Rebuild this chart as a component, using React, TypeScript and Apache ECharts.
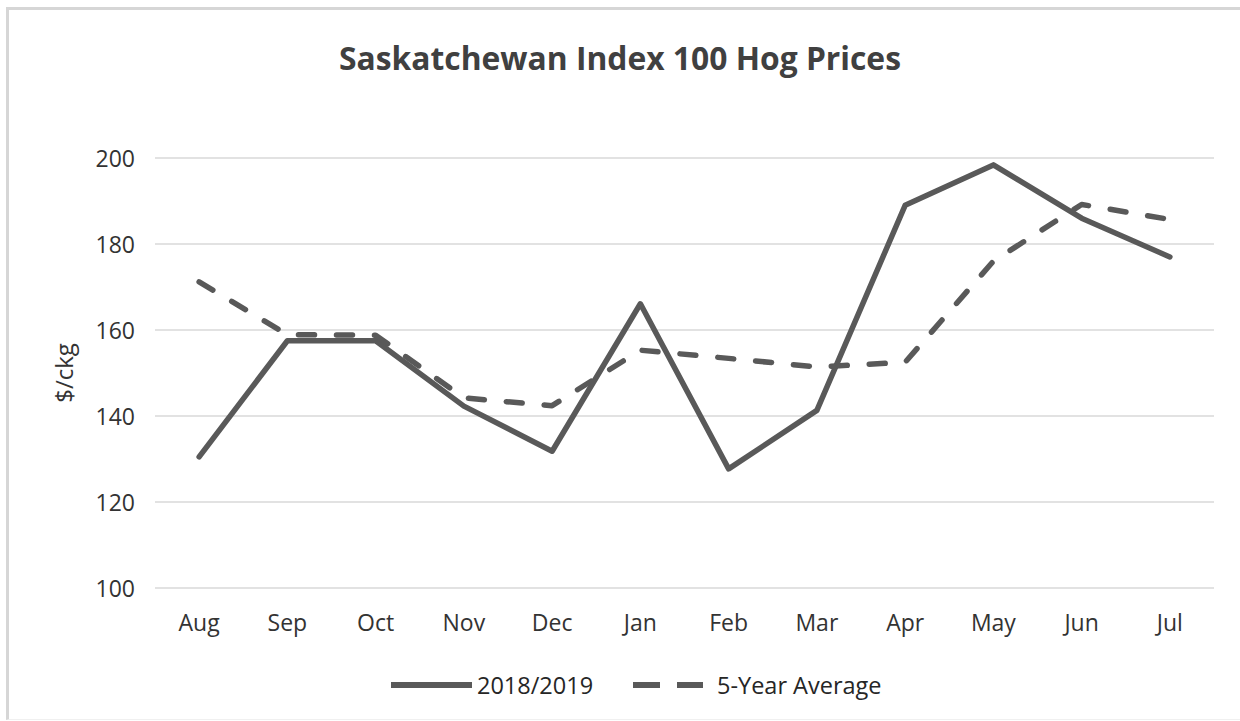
import React, { useEffect, useRef } from "react";
import * as echarts from "echarts";

const months = ["Aug", "Sep", "Oct", "Nov", "Dec", "Jan", "Feb", "Mar", "Apr", "May", "Jun", "Jul"];
const season2018 = [130.5, 157.5, 157.5, 142.3, 131.8, 166.1, 127.7, 141.3, 189, 198.4, 186, 177];
const fiveYearAvg = [171.2, 158.9, 158.8, 144.2, 142.4, 155.3, 153.4, 151.4, 152.5, 176, 189.2, 185.7];
const yTicks = { min: 100, max: 200, interval: 20 };
const seriesNames = ["2018/2019", "5-Year Average"];

const FONT = "'Open Sans', 'Noto Sans', sans-serif";
const LINE_COLOR = "#595959";
const TEXT_COLOR = "#333333";

export default function App() {
  const ref = useRef<HTMLDivElement>(null);
  useEffect(() => {
    document.body.style.margin = "0";
    const chart = echarts.init(ref.current!, null, { renderer: "svg" });
    const legendText = { fontFamily: FONT, fontSize: 23.5, color: "#262626" };
    chart.setOption({
      animation: false,
      backgroundColor: "transparent",
      textStyle: { fontFamily: FONT },
      title: {
        text: "Saskatchewan Index 100 Hog Prices",
        left: "center",
        top: 36,
        textStyle: { fontFamily: FONT, fontSize: 31.8, fontWeight: "bold", color: "#404040" },
      },
      legend: [
        {
          left: 386,
          top: 668,
          itemWidth: 81,
          itemHeight: 6,
          symbolKeepAspect: false,
          textStyle: { ...legendText, padding: [0, 0, 0, 0] },
          data: [{ name: seriesNames[0], icon: "path://M0,0 H81 V6 H0 Z" }],
        },
        {
          left: 628,
          top: 668,
          itemWidth: 70,
          itemHeight: 6,
          symbolKeepAspect: false,
          textStyle: { ...legendText, padding: [0, 0, 0, 9] },
          data: [{ name: seriesNames[1], icon: "path://M0,0 H27 V6 H0 Z M44,0 H70 V6 H44 Z" }],
        },
      ],
      grid: { left: 155, right: 26, top: 158, bottom: 133, containLabel: false },
      xAxis: {
        type: "category",
        data: months,
        boundaryGap: true,
        axisLine: { show: false },
        axisTick: { show: false },
        axisLabel: { fontFamily: FONT, fontSize: 23, color: TEXT_COLOR, margin: 22 },
      },
      yAxis: {
        type: "value",
        min: yTicks.min,
        max: yTicks.max,
        interval: yTicks.interval,
        name: "$/ckg",
        nameLocation: "middle",
        nameGap: 80,
        nameTextStyle: { fontFamily: FONT, fontSize: 24, color: TEXT_COLOR },
        axisLine: { show: false },
        axisTick: { show: false },
        axisLabel: { fontFamily: FONT, fontSize: 23, color: TEXT_COLOR, margin: 20 },
        splitLine: { lineStyle: { color: "#d9d9d9", width: 1.5 } },
      },
      series: [
        {
          name: seriesNames[0],
          type: "line",
          data: season2018,
          symbol: "none",
          lineStyle: { color: LINE_COLOR, width: 5.5, cap: "round", join: "round" },
          itemStyle: { color: LINE_COLOR },
        },
        {
          name: seriesNames[1],
          type: "line",
          data: fiveYearAvg,
          symbol: "none",
          lineStyle: { color: LINE_COLOR, width: 5.5, type: [16, 22], cap: "round", join: "round" },
          itemStyle: { color: LINE_COLOR },
        },
      ],
    });
    return () => chart.dispose();
  }, []);
  return (
    <div style={{ position: "fixed", left: 0, top: 0, width: 1240, height: 721, background: "#fff" }}>
      <div ref={ref} style={{ position: "absolute", left: 0, top: 0, width: 1240, height: 721 }} />
      <div
        style={{
          position: "absolute",
          left: 6,
          top: 7,
          width: 1234,
          height: 713,
          boxSizing: "border-box",
          borderTop: "3px solid #d6d6d6",
          borderLeft: "3px solid #d6d6d6",
          borderBottom: "1px solid #f0f0f0",
          pointerEvents: "none",
        }}
      />
    </div>
  );
}
